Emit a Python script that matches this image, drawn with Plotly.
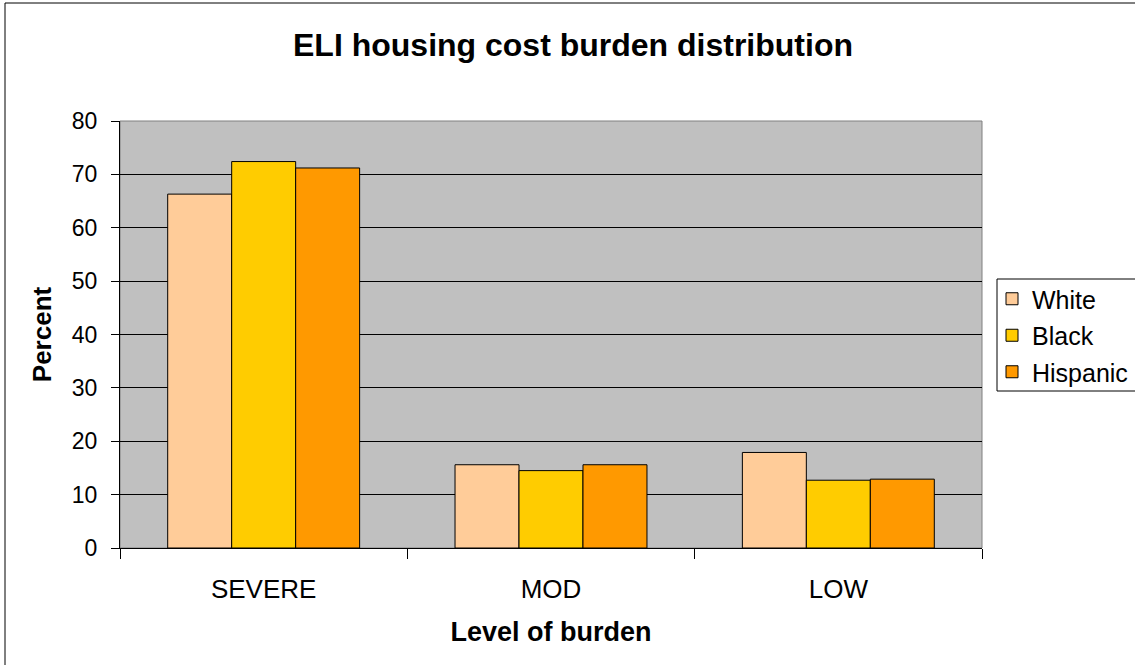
import plotly.graph_objects as go

categories = ["SEVERE", "MOD", "LOW"]
white = [66.3, 15.6, 17.9]
black = [72.4, 14.5, 12.7]
hispanic = [71.2, 15.6, 12.9]
series_names = ["White", "Black", "Hispanic"]
series_colors = ["#FFCC99", "#FFCC00", "#FF9900"]
y_ticks = [0, 10, 20, 30, 40, 50, 60, 70, 80]

FONT = "Liberation Sans, Arial, sans-serif"

fig = go.Figure()
for name, vals, col in zip(series_names, [white, black, hispanic], series_colors):
    fig.add_trace(go.Bar(
        x=categories, y=vals, name=name, legendgroup=name,
        marker=dict(color=col, line=dict(color="black", width=1)),
    ))

W, H = 1135, 665
PL, PR, PT, PB = 120, 982, 121, 548  # plot area in screen px
L, R, T, B = PL, W - PR, PT, H - PB
pw, ph = PR - PL, PB - PT

def px_x(x):
    return (x - PL) / pw

def px_y(y):
    return (PB - y) / ph

fig.update_layout(
    width=W, height=H,
    margin=dict(l=L, r=R, t=T, b=B, autoexpand=False),
    paper_bgcolor="white",
    plot_bgcolor="#C0C0C0",
    barmode="group",
    bargap=0.332,
    bargroupgap=0,
    font=dict(family=FONT, color="black", size=22),
    title=dict(
        text="<b>ELI housing cost burden distribution</b>",
        x=573 / W, xref="container", xanchor="center",
        y=1 - 45 / H, yref="container", yanchor="middle",
        font=dict(family=FONT, size=32, color="black"),
    ),
    xaxis=dict(
        showline=True, linecolor="black", linewidth=1,
        ticks="outside", ticklen=10, tickcolor="black", tickwidth=1,
        tickson="boundaries",
        tickfont=dict(family=FONT, size=26, color="black"),
        ticklabelstandoff=18,
        title=dict(text="<b>Level of burden</b>", standoff=18,
                   font=dict(family=FONT, size=27, color="black")),
        automargin=False,
    ),
    yaxis=dict(
        range=[0, 80], tickvals=y_ticks,
        showline=True, linecolor="black", linewidth=1,
        ticks="outside", ticklen=8, tickcolor="black", tickwidth=1,
        showgrid=True, gridcolor="black", gridwidth=1,
        zeroline=False,
        tickfont=dict(family=FONT, size=23, color="black"),
        ticklabelstandoff=9,
        title=dict(text="<b>Percent</b>", standoff=12,
                   font=dict(family=FONT, size=26, color="black")),
        automargin=False,
    ),
    legend=dict(
        x=px_x(992), y=px_y(276), xanchor="left", yanchor="top",
        borderwidth=0, bgcolor="rgba(0,0,0,0)",
        font=dict(family=FONT, size=25, color="black"),
        traceorder="grouped", tracegroupgap=1,
    ),
    shapes=[
        dict(type="rect", xref="paper", yref="paper", x0=0, x1=1, y0=0, y1=1,
             line=dict(color="#808080", width=1), layer="below"),
        dict(type="rect", xref="paper", yref="paper",
             x0=px_x(5), x1=px_x(1160), y0=px_y(680), y1=px_y(3),
             line=dict(color="black", width=1), layer="below"),
        dict(type="rect", xref="paper", yref="paper",
             x0=px_x(997), x1=px_x(1160), y0=px_y(391), y1=px_y(279),
             line=dict(color="black", width=1), fillcolor="white", layer="below"),
    ],
)

fig.write_html("out.html", config={"displayModeBar": False},
               post_script="document.body.style.margin='0px';")
